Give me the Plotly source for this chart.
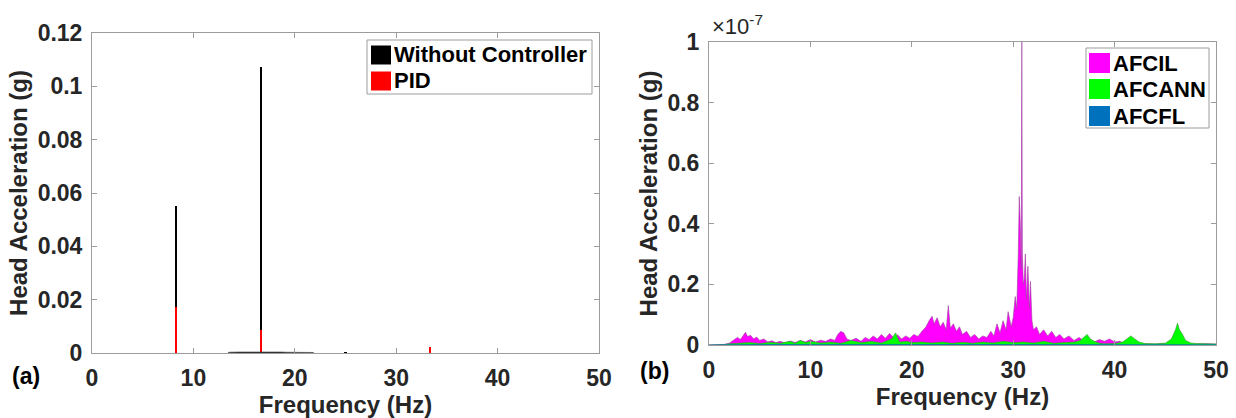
import plotly.graph_objects as go

# ---------------- Panel (a) data ----------------
wc_freq = [8.28, 16.67, 25.0, 33.33]
wc_amp = [0.0552, 0.1073, 0.0003, 0.0012]
wc_floor_freq = [13.4, 13.5, 14.5, 15.5, 16.3, 17.0, 17.8, 18.6, 19.2, 20.0, 21.0, 21.8, 21.9]
wc_floor_amp = [0.0, 0.0003, 0.0004, 0.0004, 0.0005, 0.0006, 0.0005, 0.0004, 0.0003, 0.0003, 0.0002, 0.0002, 0.0]
pid_freq = [8.28, 16.67, 33.33]
pid_amp = [0.0172, 0.0086, 0.0022]

# ---------------- Panel (b) data (units of 1e-7 g) ----------------
afcil_freq = [0, 1.5, 2.0, 2.4, 2.8, 3.1, 3.4, 3.6, 3.8, 4.1, 4.4, 4.7, 5.0, 5.4, 5.8, 6.2, 6.6, 7.0,
              7.5, 8.0, 8.5, 9.0, 9.5, 10.0, 10.5, 11.0, 11.5, 12.0, 12.4, 12.7, 13.0, 13.3, 13.6,
              14.0, 14.5, 15.0, 15.4, 15.8, 16.2, 16.6, 17.0, 17.4, 17.8, 18.2, 18.6, 19.0, 19.4,
              19.8, 20.2, 20.6, 21.0, 21.4, 21.7, 22.0, 22.2, 22.5, 22.8, 23.1, 23.4, 23.6, 23.8,
              24.1, 24.4, 24.7, 25.0, 25.4, 25.8, 26.2, 26.6, 27.0, 27.4, 27.8, 28.1, 28.4, 28.7,
              29.0, 29.3, 29.5, 29.8, 30.0, 30.2, 30.35, 30.5, 30.6, 30.7, 30.8, 30.85, 30.9, 31.0,
              31.1, 31.2, 31.3, 31.45, 31.6, 31.7, 31.85, 32.0, 32.3, 32.6, 33.0, 33.4, 33.8, 34.2,
              34.6, 35.0, 35.5, 36.0, 36.5, 37.0, 37.5, 38.0, 38.5, 39.0, 39.5, 40.0, 40.5, 41.0,
              42, 43, 44, 45, 46, 47, 48, 49, 50]
afcil_amp = [0, 0.002, 0.006, 0.015, 0.025, 0.018, 0.035, 0.042, 0.028, 0.032, 0.02, 0.026, 0.015,
             0.02, 0.01, 0.014, 0.008, 0.012, 0.007, 0.013, 0.008, 0.015, 0.01, 0.018, 0.01, 0.016,
             0.012, 0.02, 0.015, 0.035, 0.045, 0.04, 0.02, 0.015, 0.022, 0.012, 0.025, 0.018, 0.03,
             0.02, 0.035, 0.022, 0.038, 0.025, 0.033, 0.02, 0.03, 0.022, 0.035, 0.028, 0.045, 0.06,
             0.08, 0.095, 0.07, 0.09, 0.06, 0.075, 0.05, 0.13, 0.055, 0.07, 0.045, 0.06, 0.035,
             0.045, 0.025, 0.035, 0.02, 0.03, 0.025, 0.045, 0.03, 0.07, 0.04, 0.08, 0.05, 0.11,
             0.06, 0.09, 0.16, 0.12, 0.3, 0.49, 0.4, 0.25, 1.0, 0.3, 0.2, 0.22, 0.3, 0.15, 0.26,
             0.12, 0.21, 0.08, 0.05, 0.06, 0.035, 0.05, 0.03, 0.045, 0.025, 0.035, 0.02, 0.03,
             0.015, 0.025, 0.012, 0.02, 0.01, 0.018, 0.012, 0.02, 0.01, 0.012, 0.004, 0.003, 0.004,
             0.003, 0.004, 0.003, 0.004, 0.003, 0.004, 0.003]
afcann_freq = [0, 1.5, 2, 3, 4, 5, 6, 7, 8, 8.5, 9, 9.5, 10, 11, 12, 13, 14, 15, 16, 17, 18, 18.4,
               18.8, 19.5, 20, 21, 22, 23, 24, 25, 26, 27, 28, 29, 30, 31, 32, 33, 34, 35, 36,
               36.6, 37.0, 37.3, 37.6, 38.0, 38.5, 39, 40, 40.8, 41.2, 41.6, 42.0, 42.4, 43, 44,
               45, 45.6, 46.0, 46.2, 46.4, 46.7, 47.0, 47.5, 48, 49, 50]
afcann_amp = [0, 0.001, 0.004, 0.006, 0.008, 0.005, 0.009, 0.006, 0.012, 0.006, 0.015, 0.008, 0.012,
              0.007, 0.01, 0.006, 0.015, 0.008, 0.012, 0.007, 0.02, 0.04, 0.01, 0.012, 0.008, 0.01,
              0.007, 0.01, 0.006, 0.009, 0.006, 0.01, 0.007, 0.012, 0.008, 0.01, 0.007, 0.012,
              0.006, 0.008, 0.01, 0.015, 0.025, 0.035, 0.02, 0.012, 0.006, 0.004, 0.005, 0.01,
              0.02, 0.03, 0.02, 0.01, 0.005, 0.004, 0.006, 0.02, 0.05, 0.072, 0.05, 0.035, 0.015,
              0.007, 0.005, 0.004, 0.003]
afcfl_freq = [0, 2, 10, 20, 30, 40, 50]
afcfl_amp = [0, 0.001, 0.002, 0.002, 0.002, 0.001, 0.001]

# legend labels / colours
legend_a = [('Without Controller', 'black'), ('PID', '#ff0000')]
legend_b = [('AFCIL', '#ff00ff'), ('AFCANN', '#00ff00'), ('AFCFL', '#0072bd')]

W, H = 1236, 418
TXT = '#262626'
AX = '#9c9c9c'
FONT = 'Liberation Sans'

fig = go.Figure()

# Panel (a)
fig.add_trace(go.Scatter(x=wc_floor_freq, y=wc_floor_amp, mode='lines', fill='tozeroy',
                         line=dict(color='#333333', width=0.5), fillcolor='#333333',
                         showlegend=False, xaxis='x', yaxis='y', hoverinfo='skip'))
fig.add_trace(go.Bar(x=wc_freq, y=wc_amp, width=0.22, marker=dict(color='black', line=dict(width=0)),
                     name=legend_a[0][0], showlegend=False, xaxis='x', yaxis='y'))
fig.add_trace(go.Bar(x=pid_freq, y=pid_amp, width=0.22, marker=dict(color='#ff0000', line=dict(width=0)),
                     name=legend_a[1][0], showlegend=False, xaxis='x', yaxis='y'))

# Panel (b)
for (name, col), fx, fy, lc in [(legend_b[0], afcil_freq, afcil_amp, '#9a3f9a'),
                                (legend_b[1], afcann_freq, afcann_amp, '#3f8f3f'),
                                (legend_b[2], afcfl_freq, afcfl_amp, '#0072bd')]:
    fig.add_trace(go.Scatter(x=fx, y=fy, mode='lines', fill='tozeroy',
                             line=dict(color=lc, width=0.6), fillcolor=col,
                             name=name, showlegend=False, xaxis='x2', yaxis='y2'))

tickfont = dict(family=FONT, size=23, color=TXT, weight='bold')
titlefont = dict(family=FONT, size=24, color=TXT, weight='bold')


def xax(dom, anchor):
    return dict(domain=dom, range=[0, 50], tickvals=[0, 10, 20, 30, 40, 50], ticks='inside',
                ticklen=5, tickcolor=AX, showline=True, linecolor=AX, linewidth=1, mirror='ticks',
                showgrid=False, zeroline=False, tickfont=tickfont, automargin=False,
                ticklabelstandoff=4, anchor=anchor, ticklabeloverflow='allow',
                title=dict(text='Frequency (Hz)', font=titlefont, standoff=4))


def yax(dom, rng, dtick, anchor):
    return dict(domain=dom, range=rng, dtick=dtick, ticks='inside', ticklen=5, tickcolor=AX,
                showline=True, linecolor=AX, linewidth=1, mirror='ticks', showgrid=False,
                zeroline=False, tickfont=tickfont, automargin=False, anchor=anchor,
                ticklabelstandoff=4,
                title=dict(text='Head Acceleration (g)', font=titlefont, standoff=3))


# manual legend boxes (pixel geometry -> paper coords)
def px(x):
    return x / W


def py(y):
    return 1 - y / H


shapes, annots = [], []


def build_legend(items, x0, x1, y0, y1, row_y, sw_x0, sw_w, sw_h, txt_x):
    shapes.append(dict(type='rect', xref='paper', yref='paper', x0=px(x0), x1=px(x1),
                       y0=py(y1), y1=py(y0), line=dict(color=AX, width=1), fillcolor='white',
                       layer='above'))
    for (name, col), ry in zip(items, row_y):
        shapes.append(dict(type='rect', xref='paper', yref='paper', x0=px(sw_x0), x1=px(sw_x0 + sw_w),
                           y0=py(ry + sw_h / 2), y1=py(ry - sw_h / 2), line=dict(width=0),
                           fillcolor=col, layer='above'))
        annots.append(dict(text=name, x=px(txt_x), y=py(ry), xref='paper', yref='paper',
                           xanchor='left', yanchor='middle', showarrow=False,
                           font=dict(family=FONT, size=22, color='black', weight='bold')))


build_legend(legend_a, 367, 592, 40, 94, [55, 81], 371, 20, 19, 392)
build_legend(legend_b, 1086, 1209, 48, 128, [63, 89, 116], 1089, 21, 20, 1111)

annots += [
    dict(text='(a)', x=px(26), y=py(376), xref='paper', yref='paper', showarrow=False,
         xanchor='center', yanchor='middle',
         font=dict(family=FONT, size=23, color='black', weight='bold')),
    dict(text='(b)', x=px(654), y=py(371), xref='paper', yref='paper', showarrow=False,
         xanchor='center', yanchor='middle',
         font=dict(family=FONT, size=23, color='black', weight='bold')),
    dict(text='×10<sup>-7</sup>', x=px(710), y=py(25), xref='paper', yref='paper',
         xanchor='left', yanchor='middle', showarrow=False,
         font=dict(family=FONT, size=22, color=TXT)),
]

fig.update_layout(
    width=W, height=H, margin=dict(l=0, r=0, t=0, b=0),
    paper_bgcolor='white', plot_bgcolor='white', barmode='overlay', bargap=0,
    showlegend=False,
    xaxis=xax([92 / W, 599 / W], 'y'),
    yaxis=yax([1 - 353 / H, 1 - 33 / H], [0, 0.12], 0.02, 'x'),
    xaxis2=xax([709 / W, 1216 / W], 'y2'),
    yaxis2=yax([1 - 345 / H, 1 - 42 / H], [0, 1], 0.2, 'x2'),
    shapes=shapes,
    annotations=annots,
)

fig.write_html('out.html', config={'displayModeBar': False},
               post_script="document.body.style.margin='0';document.body.style.overflow='hidden';")
